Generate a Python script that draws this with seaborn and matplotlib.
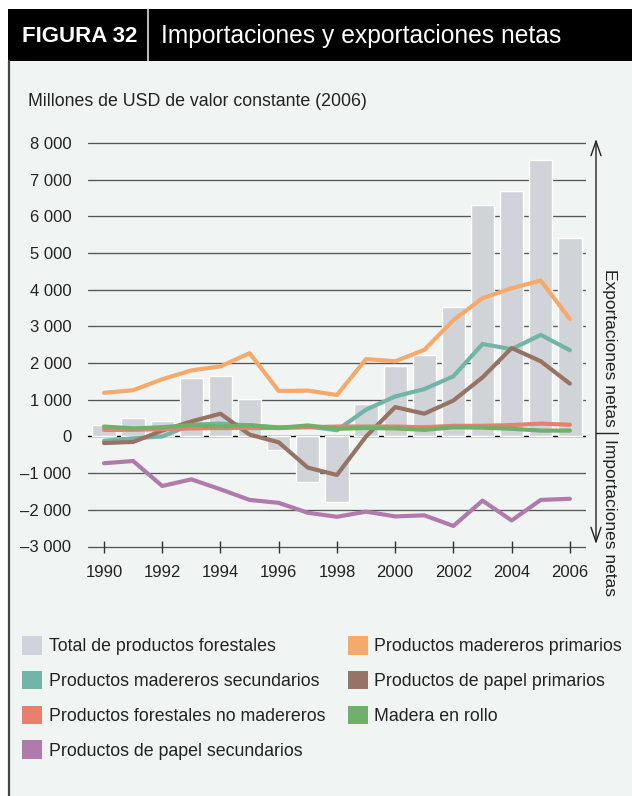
import numpy as np
import pandas as pd
import matplotlib
matplotlib.use("Agg")
import matplotlib.pyplot as plt
import matplotlib.patches as mpatches
import matplotlib.lines as mlines
import seaborn as sns

# ---------------- data ----------------
years = list(range(1990, 2007))
total_forestal = [320, 510, 430, 1600, 1650, 1020, -380, -1240, -1800, 890, 1930, 2230, 3530, 6310, 6690, 7540, 5420]
mad_primarios = [1190, 1260, 1560, 1800, 1910, 2270, 1240, 1250, 1130, 2110, 2050, 2360, 3170, 3770, 4040, 4250, 3200]
mad_secundarios = [-120, -50, 0, 320, 350, 300, 250, 270, 170, 730, 1090, 1290, 1640, 2520, 2380, 2770, 2350]
papel_primarios = [-180, -150, 160, 410, 620, 50, -160, -850, -1050, 0, 800, 620, 980, 1610, 2410, 2050, 1440]
no_madereros = [180, 180, 200, 220, 230, 230, 230, 250, 270, 270, 270, 250, 290, 290, 310, 350, 320]
madera_rollo = [270, 220, 250, 310, 270, 310, 230, 300, 210, 230, 220, 180, 250, 240, 210, 160, 160]
papel_secundarios = [-730, -670, -1350, -1170, -1440, -1730, -1810, -2080, -2190, -2050, -2180, -2150, -2440, -1750, -2290, -1730, -1700]

lab_total = "Total de productos forestales"
lab_mprim = "Productos madereros primarios"
lab_msec = "Productos madereros secundarios"
lab_pprim = "Productos de papel primarios"
lab_nomad = "Productos forestales no madereros"
lab_rollo = "Madera en rollo"
lab_psec = "Productos de papel secundarios"

colors = {
    lab_total: "#D0D3D7",
    lab_mprim: "#F5AA6C",
    lab_msec: "#72B5A7",
    lab_pprim: "#977365",
    lab_nomad: "#E8806D",
    lab_rollo: "#6FB06B",
    lab_psec: "#B07BAB",
}

ytick_vals = list(range(-3000, 8001, 1000))
xtick_vals = list(range(1990, 2007, 2))

# ---------------- style ----------------
sns.set_style("white")
plt.rcParams["font.family"] = ["Liberation Sans", "DejaVu Sans"]
BG = "#F0F5F3"

W, H = 632, 796
fig = plt.figure(figsize=(W / 100, H / 100), dpi=100, facecolor="white")

def fx(px):
    return px / W

def fy(py):
    return 1 - py / H

# panel background and frame
fig.patches.append(mpatches.Rectangle((fx(8), 0), 1 - fx(8), fy(61), transform=fig.transFigure,
                                      facecolor=BG, edgecolor="none", zorder=-10))
fig.patches.append(mpatches.Rectangle((fx(8), fy(61)), 1 - fx(8), fy(9) - fy(61), transform=fig.transFigure,
                                      facecolor="black", edgecolor="none", zorder=-9))
fig.lines.append(mlines.Line2D([fx(9), fx(9)], [0, fy(61)], transform=fig.transFigure, color="#444444", lw=1.6))
fig.lines.append(mlines.Line2D([fx(148), fx(148)], [fy(9), fy(61)], transform=fig.transFigure, color="#DDDDDD", lw=1.2))
fig.text(fx(22), fy(36), "FIGURA 32", color="white", fontsize=16, fontweight="bold", va="center", ha="left")
fig.text(fx(161), fy(36), "Importaciones y exportaciones netas", color="white", fontsize=17.7, va="center", ha="left")

# axes
ax = fig.add_axes([fx(88), fy(546.5), fx(585) - fx(88), fy(143) - fy(546.5)])
ax.set_facecolor("none")
ax.set_zorder(5)

for v in ytick_vals:
    ax.axhline(v, color="black" if v == 0 else "#555555", lw=1.0 if v == 0 else 0.95, zorder=0.5,
               clip_on=False)

df_bar = pd.DataFrame({"year": years, "value": total_forestal})
sns.barplot(data=df_bar, x="year", y="value", native_scale=True, color=colors[lab_total],
            saturation=1, width=0.8, ax=ax, zorder=2, errorbar=None)

series = [
    (lab_msec, mad_secundarios),
    (lab_pprim, papel_primarios),
    (lab_mprim, mad_primarios),
    (lab_nomad, no_madereros),
    (lab_rollo, madera_rollo),
    (lab_psec, papel_secundarios),
]
df_lines = pd.concat([pd.DataFrame({"year": years, "value": vals, "serie": name}) for name, vals in series])
sns.lineplot(data=df_lines, x="year", y="value", hue="serie", palette=colors, lw=3.0,
             legend=False, ax=ax, zorder=3, sort=False)

ax.set_xlim(1989.45, 2006.52)
ax.set_ylim(-3000, 8000)
ax.set_yticks(ytick_vals)
ax.set_yticklabels([f"{v:,}".replace(",", " ").replace("-", "\u2013") for v in ytick_vals])
ax.set_xticks(xtick_vals)
ax.set_xticklabels([str(y) for y in xtick_vals])
ax.set_xlabel("")
ax.set_ylabel("")
for s in ax.spines.values():
    s.set_visible(False)
ax.tick_params(axis="y", length=0, pad=12, labelsize=12, labelcolor="#222222")
ax.tick_params(axis="x", direction="inout", length=8, width=1, color="#333333", pad=9.5,
               labelsize=12, labelcolor="#222222", bottom=True)

fig.text(fx(28), fy(101), "Millones de USD de valor constante (2006)", fontsize=12.8, color="#222222",
         ha="left", va="center")

# right-hand arrow and labels
ax.annotate("", xy=(fx(596), fy(139)), xytext=(fx(596), fy(544)), xycoords="figure fraction",
            textcoords="figure fraction", annotation_clip=False,
            arrowprops=dict(arrowstyle="<->,head_length=1.05,head_width=0.36", lw=1.0, color="#222222",
                            shrinkA=0, shrinkB=0))
fig.lines.append(mlines.Line2D([fx(596), fx(618)], [fy(433), fy(433)], transform=fig.transFigure,
                               color="#222222", lw=1.0))
fig.text(fx(609), fy(427), "Exportaciones netas", rotation=270, fontsize=12.5, color="#222222",
         ha="center", va="bottom")
fig.text(fx(609), fy(439), "Importaciones netas", rotation=270, fontsize=12.5, color="#222222",
         ha="center", va="top")

# legend
order = [lab_total, lab_msec, lab_nomad, lab_psec, lab_mprim, lab_pprim, lab_rollo]
handles = [mpatches.Patch(facecolor=colors[k], edgecolor="none", label=k) for k in order]
fs = 12.8
fsp = fs * 100 / 72
fig.legend(handles=handles, loc="upper left", bbox_to_anchor=(fx(22), fy(636)), ncol=2, frameon=False,
           fontsize=fs, handlelength=20 / fsp, handleheight=22 / fsp, handletextpad=7 / fsp,
           labelspacing=15.5 / fsp, columnspacing=22 / fsp, borderpad=0, borderaxespad=0,
           labelcolor="#222222")

fig.savefig("out.png", dpi=100, facecolor="white")
